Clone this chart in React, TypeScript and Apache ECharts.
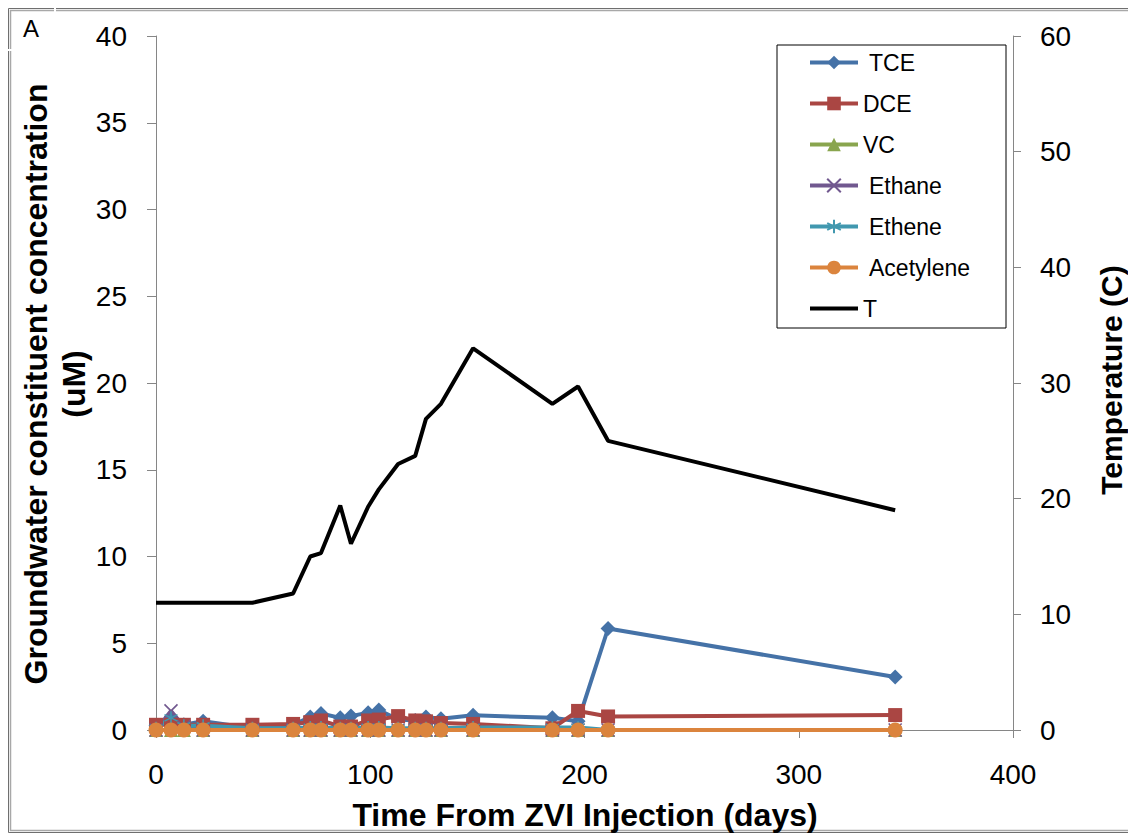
import React, { useEffect, useRef } from "react";
import * as echarts from "echarts";

const FONT = "'Liberation Sans', Arial, sans-serif";

// Sampling days after the ZVI injection
const days = [0, 7, 13, 22, 45, 64, 72, 77, 86, 91, 99, 104, 113, 121, 126, 133, 148, 185, 197, 211, 345];

// Groundwater constituents (uM)
const tce = [0.25, 0.55, 0.3, 0.5, 0.1, 0.3, 0.75, 0.95, 0.7, 0.8, 1.0, 1.15, 0.6, 0.55, 0.75, 0.65, 0.85, 0.7, 0.5, 5.85, 3.05];
const dce = [0.3, 0.3, 0.3, 0.3, 0.3, 0.35, 0.45, 0.55, 0.2, 0.2, 0.55, 0.6, 0.8, 0.55, 0.5, 0.4, 0.35, 0.1, 1.1, 0.78, 0.86];
const vc = [0, 0, 0, 0, 0, 0, 0, 0, 0, 0, 0, 0, 0, 0, 0, 0, 0, 0, 0, 0, 0];
const ethane = [0, 1.1, 0.2, 0, 0, 0, 0, 0, 0, 0, 0, 0, 0, 0, 0, 0, 0, 0, 0, 0, 0];
const ethene = [0.1, 0.7, 0.25, 0.25, 0.1, 0.1, 0.15, 0.15, 0.1, 0.1, 0.15, 0.15, 0.1, 0.1, 0.1, 0.1, 0.15, 0.15, 0.15, 0, 0];
const acetylene = [0, 0, 0, 0, 0, 0, 0, 0, 0, 0, 0, 0, 0, 0, 0, 0, 0, 0, 0, 0, 0];

// Groundwater temperature (C)
const temperature = [11, 11, 11, 11, 11, 11.8, 15.0, 15.3, 19.4, 16.1, 19.3, 20.8, 23.0, 23.7, 26.9, 28.2, 33.0, 28.2, 29.7, 25.0, 19.0];

const xTicks = { min: 0, max: 400, interval: 100 };
const leftTicks = { min: 0, max: 40, interval: 5 };
const rightTicks = { min: 0, max: 60, interval: 10 };

const spacedNames = ["TCE", "Ethane", "Ethene", "Acetylene"];

const pair = (vals: number[]) => days.map((d, i) => [d, vals[i]]);

const X_SYMBOL = "path://M0,0L10,10M10,0L0,10";
const STAR_SYMBOL = "path://M5,0L5,10M0.7,2.5L9.3,7.5M0.7,7.5L9.3,2.5";
const BAR_ICON = "path://M0,0H48V4H0Z";

function lineSeries(name: string, vals: number[], color: string, symbol: string, size: number, stroked = false) {
  return {
    name,
    type: "line",
    data: pair(vals),
    symbol,
    symbolSize: size,
    showSymbol: true,
    lineStyle: { color, width: 4 },
    itemStyle: stroked
      ? { color, borderColor: color, borderWidth: 1.6 }
      : { color, borderWidth: 0 },
    emphasis: { disabled: true },
  };
}

export default function App() {
  const ref = useRef<HTMLDivElement>(null);

  useEffect(() => {
    if (!ref.current) return;
    const chart = echarts.init(ref.current, null, { renderer: "svg" });
    const axisGray = "#868686";

    const option = {
      animation: false,
      backgroundColor: "#ffffff",
      grid: { left: 156, top: 36, right: 115, bottom: 110, containLabel: false },
      xAxis: {
        type: "value",
        ...xTicks,
        axisLine: { show: true, lineStyle: { color: axisGray, width: 1 } },
        axisTick: { show: true, length: 8, lineStyle: { color: axisGray } },
        splitLine: { show: false },
        axisLabel: { fontSize: 28, color: "#000", margin: 30, fontFamily: FONT },
      },
      yAxis: [
        {
          type: "value",
          position: "left",
          ...leftTicks,
          axisLine: { show: true, lineStyle: { color: axisGray, width: 1 } },
          axisTick: { show: true, length: 9, lineStyle: { color: axisGray } },
          splitLine: { show: false },
          axisLabel: { fontSize: 28, color: "#000", margin: 29, fontFamily: FONT },
        },
        {
          type: "value",
          position: "right",
          ...rightTicks,
          axisLine: { show: true, lineStyle: { color: axisGray, width: 1 } },
          axisTick: { show: true, length: 8, lineStyle: { color: axisGray } },
          splitLine: { show: false },
          axisLabel: { fontSize: 28, color: "#000", margin: 27, fontFamily: FONT },
        },
      ],
      legend: {
        orient: "vertical",
        left: 777,
        top: 45,
        padding: [6, 36, 8, 31],
        itemWidth: 48,
        itemHeight: 17,
        itemGap: 18,
        borderColor: "#000",
        borderWidth: 1,
        backgroundColor: "#fff",
        lineStyle: { width: 4 },
        data: [
          "TCE",
          "DCE",
          "VC",
          "Ethane",
          "Ethene",
          "Acetylene",
          { name: "T", icon: BAR_ICON },
        ],
        symbolKeepAspect: true,
        formatter: (name: string) => (spacedNames.includes(name) ? `{s|${name}}` : `{n|${name}}`),
        textStyle: {
          fontSize: 23,
          color: "#000",
          fontFamily: FONT,
          rich: {
            s: { fontSize: 23, fontFamily: FONT, color: "#000", padding: [0, 0, 0, 6] },
            n: { fontSize: 23, fontFamily: FONT, color: "#000" },
          },
        },
      },
      graphic: [
        // outer panel frame (double rule)
        {
          type: "rect",
          shape: { x: 8.5, y: 8.5, width: 1130, height: 824 },
          style: { fill: "none", stroke: "#6f6f6f", lineWidth: 1 },
          silent: true,
        },
        {
          type: "rect",
          shape: { x: 10.5, y: 10.5, width: 1130, height: 820 },
          style: { fill: "none", stroke: "#a8a8a8", lineWidth: 1.5 },
          silent: true,
        },
        { type: "rect", shape: { x: 54, y: 7, width: 2, height: 6 }, style: { fill: "#fff" }, silent: true },
        { type: "rect", shape: { x: 7, y: 49, width: 6, height: 2 }, style: { fill: "#fff" }, silent: true },
        {
          type: "text",
          left: 23,
          top: 16,
          style: { text: "A", font: `24px ${FONT}`, fill: "#000" },
          silent: true,
        },
        {
          type: "text",
          x: 55,
          y: 384,
          rotation: Math.PI / 2,
          style: {
            text: "Groundwater constituent concentration\n(uM)",
            font: `bold 32px ${FONT}`,
            fill: "#000",
            align: "center",
            verticalAlign: "middle",
            lineHeight: 38,
          },
          silent: true,
        },
        {
          type: "text",
          x: 1111,
          y: 380,
          rotation: Math.PI / 2,
          style: {
            text: "Temperature (C)",
            font: `bold 30px ${FONT}`,
            fill: "#000",
            align: "center",
            verticalAlign: "middle",
          },
          silent: true,
        },
        {
          type: "text",
          x: 585,
          y: 815,
          style: {
            text: "Time From ZVI Injection (days)",
            font: `bold 32px ${FONT}`,
            fill: "#000",
            align: "center",
            verticalAlign: "middle",
          },
          silent: true,
        },
      ],
      series: [
        lineSeries("TCE", tce, "#4572A7", "diamond", 15),
        lineSeries("DCE", dce, "#AA4643", "rect", 14),
        lineSeries("VC", vc, "#89A54E", "triangle", 14),
        lineSeries("Ethane", ethane, "#71588F", X_SYMBOL, 13, true),
        lineSeries("Ethene", ethene, "#4198AF", STAR_SYMBOL, 13, true),
        lineSeries("Acetylene", acetylene, "#DB843D", "circle", 15),
        {
          name: "T",
          type: "line",
          yAxisIndex: 1,
          data: pair(temperature),
          symbol: "none",
          showSymbol: false,
          lineStyle: { color: "#000", width: 4 },
          itemStyle: { color: "#000" },
          emphasis: { disabled: true },
        },
      ],
    };

    chart.setOption(option as any);
    return () => chart.dispose();
  }, []);

  return (
    <div
      ref={ref}
      style={{ position: "absolute", left: 0, top: 0, width: 1128, height: 840 }}
    />
  );
}
